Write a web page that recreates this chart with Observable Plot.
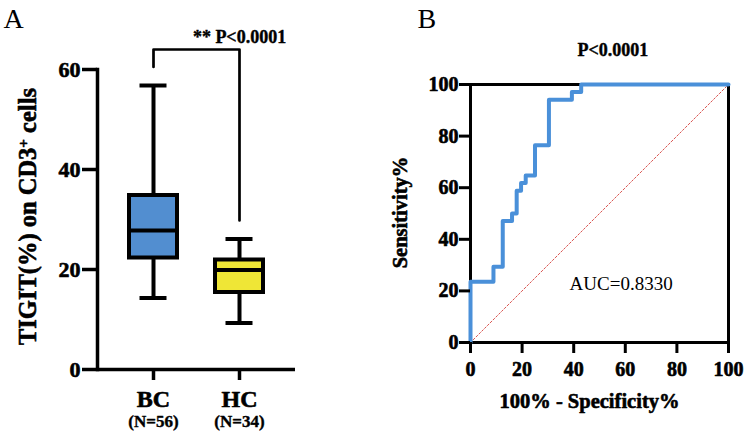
<!DOCTYPE html>
<html>
<head>
<meta charset="utf-8">
<script src="https://cdn.jsdelivr.net/npm/d3@7"></script>
<script src="https://cdn.jsdelivr.net/npm/@observablehq/plot@0.6"></script>
<style>
  html, body { margin: 0; padding: 0; background: #fff; }
  #wrap { position: relative; width: 750px; height: 433px; background: #fff; overflow: hidden; }
  #wrap > div { position: absolute; top: 0; }
  #panelA { left: 0; }
  #panelB { left: 340px; }
</style>
</head>
<body>
<div id="wrap"><div id="panelA"></div><div id="panelB"></div></div>
<script>
// ---------- Panel A data (box plot summary) ----------
const categories = ["BC", "HC"];
const groupN = ["(N=56)", "(N=34)"];
const boxMin = [14.3, 9.3];
const boxQ1 = [22.3, 15.4];
const boxMedian = [27.8, 19.9];
const boxQ3 = [34.8, 21.9];
const boxMax = [56.8, 26.1];
const boxColors = ["#528ed0", "#efe636"];
const yTicksA = [0, 20, 40, 60];
const bracketX = ["BC", "BC", "HC", "HC"];
const bracketY = [60.5, 64, 64, 29.8];
const sigLabel = "** P<0.0001";
const yLabelA = "TIGIT(%) on CD3+ cells";

// ---------- Panel B data (ROC curve) ----------
const rocFpr = [0, 0, 8.9, 12.5, 16.1, 17.9, 19.6, 21.4, 25.0, 30.4, 39.3, 42.9, 100];
const rocSens = [0, 23.5, 29.4, 47.1, 50.0, 58.8, 61.8, 64.7, 76.5, 94.1, 97.1, 100, 100];
const refX = [0, 100];
const refY = [0, 100];
const xTicksB = [0, 20, 40, 60, 80, 100];
const yTicksB = [0, 20, 40, 60, 80, 100];
const pLabelB = "P<0.0001";
const aucLabel = "AUC=0.8330";
const xLabelB = "100% - Specificity%";
const yLabelB = "Sensitivity%";

const FONT = "'Liberation Serif', 'Times New Roman', Times, serif";
const HEAVY = {fontWeight: "bold", fontFamily: FONT, fill: "black", stroke: "black", strokeWidth: 0.6, paintOrder: "stroke"};

// Build tables
const boxes = categories.map((c, i) => ({
  cat: c, n: groupN[i], min: boxMin[i], q1: boxQ1[i], med: boxMedian[i], q3: boxQ3[i], max: boxMax[i], color: boxColors[i]
}));
const bracket = bracketX.map((x, i) => ({x, y: bracketY[i]}));
const roc = rocFpr.map((x, i) => ({x, y: rocSens[i]}));
const ref = refX.map((x, i) => ({x, y: refY[i]}));

// ---------- Panel A ----------
const plotA = Plot.plot({
  width: 340,
  height: 433,
  marginLeft: 97,
  marginRight: 45,
  marginTop: 69,
  marginBottom: 64,
  style: {fontFamily: FONT, fontWeight: "bold", background: "white", color: "black", overflow: "visible"},
  x: {type: "band", domain: categories, paddingInner: 0.442, paddingOuter: 0.37},
  y: {domain: [0, 60]},
  marks: [
    // whiskers
    Plot.ruleX(boxes, {x: "cat", y1: "min", y2: "q1", stroke: "black", strokeWidth: 4}),
    Plot.ruleX(boxes, {x: "cat", y1: "q3", y2: "max", stroke: "black", strokeWidth: 4}),
    Plot.tickY(boxes, {x: "cat", y: "min", stroke: "black", strokeWidth: 4, insetLeft: 10.5, insetRight: 10.5}),
    Plot.tickY(boxes, {x: "cat", y: "max", stroke: "black", strokeWidth: 4, insetLeft: 10.5, insetRight: 10.5}),
    // boxes
    Plot.barY(boxes, {x: "cat", y1: "q1", y2: "q3", fill: "color", stroke: "black", strokeWidth: 4}),
    Plot.tickY(boxes, {x: "cat", y: "med", stroke: "black", strokeWidth: 4}),
    // axes
    Plot.frame({anchor: "left", stroke: "black", strokeWidth: 3.5}),
    Plot.ruleY([0], {stroke: "black", strokeWidth: 3.5}),
    Plot.axisY(yTicksA, {tickSize: 15, tickFormat: () => "", strokeWidth: 3.5, label: null}),
    Plot.text(yTicksA, {y: d => d, text: d => String(d), frameAnchor: "left", textAnchor: "end", lineAnchor: "middle", dx: -17, fontSize: 22, ...HEAVY}),
    Plot.axisX(categories, {tickSize: 11, tickFormat: () => "", strokeWidth: 3.5, label: null}),
    // category labels
    Plot.text(boxes, {x: "cat", y: () => 0, text: "cat", dy: 37.7, lineAnchor: "bottom", fontSize: 24, ...HEAVY}),
    Plot.text(boxes, {x: "cat", y: () => 0, text: "n", dy: 57.5, lineAnchor: "bottom", fontSize: 17, ...HEAVY, strokeWidth: 0.4}),
    // significance bracket
    Plot.line(bracket, {x: "x", y: "y", stroke: "black", strokeWidth: 2.7, curve: "linear"}),
    Plot.text([sigLabel], {x: () => "HC", y: () => 65.3, text: d => d, lineAnchor: "bottom", fontSize: 18, ...HEAVY, strokeWidth: 0.4}),
    // y label
    Plot.text([yLabelA], {frameAnchor: "left", text: d => d, rotate: -90, textAnchor: "middle", lineAnchor: "middle", dx: -69, dy: -3, fontSize: 24.5, ...HEAVY}),
    // panel letter
    Plot.text(["A"], {frameAnchor: "top-left", text: d => d, dx: -94, dy: -42, textAnchor: "start", lineAnchor: "bottom", fontSize: 28, fontWeight: "normal", fontFamily: FONT})
  ]
});
document.getElementById("panelA").appendChild(plotA);

// superscript "+" in the y label
d3.select(plotA).selectAll("text").each(function() {
  if (this.textContent === yLabelA) {
    const t = d3.select(this);
    t.text(null).attr("text-anchor", "middle");
    t.append("tspan").text("TIGIT(%) on CD3");
    t.append("tspan").text("+").attr("font-size", "0.62em").attr("dy", "-0.55em");
    t.append("tspan").text(" cells").attr("dy", "0.34em");
  }
});

// ---------- Panel B ----------
const plotB = Plot.plot({
  width: 410,
  height: 433,
  marginLeft: 130,
  marginRight: 22,
  marginTop: 84,
  marginBottom: 91,
  style: {fontFamily: FONT, fontWeight: "bold", background: "white", color: "black", overflow: "visible"},
  x: {domain: [0, 100]},
  y: {domain: [0, 100]},
  marks: [
    Plot.frame({stroke: "black", strokeWidth: 3}),
    Plot.line(ref, {x: "x", y: "y", stroke: "#d9534f", strokeWidth: 1, strokeDasharray: "2,2"}),
    Plot.line(roc, {x: "x", y: "y", curve: "step-after", stroke: "#4a90d9", strokeWidth: 4}),
    Plot.axisY(yTicksB, {tickSize: 11, tickFormat: () => "", strokeWidth: 3, label: null}),
    Plot.axisX(xTicksB, {tickSize: 11, tickFormat: () => "", strokeWidth: 3, label: null}),
    Plot.text(yTicksB, {y: d => d, text: d => String(d), frameAnchor: "left", textAnchor: "end", lineAnchor: "middle", dx: -12, fontSize: 20, ...HEAVY}),
    Plot.text(xTicksB, {x: d => d, text: d => String(d), frameAnchor: "bottom", textAnchor: "middle", lineAnchor: "top", dy: 19, fontSize: 20, ...HEAVY}),
    Plot.text([pLabelB], {x: () => 55.2, y: () => 111.2, text: d => d, lineAnchor: "bottom", fontSize: 18, ...HEAVY, strokeWidth: 0.4}),
    Plot.text([aucLabel], {x: () => 38.4, y: () => 20.2, text: d => d, textAnchor: "start", lineAnchor: "bottom", fontSize: 19, fontWeight: "normal", fontFamily: FONT}),
    Plot.text([xLabelB], {frameAnchor: "bottom", text: d => d, textAnchor: "middle", dx: -10, dy: 65, lineAnchor: "bottom", fontSize: 20.5, ...HEAVY}),
    Plot.text([yLabelB], {frameAnchor: "left", text: d => d, rotate: -90, textAnchor: "middle", lineAnchor: "middle", dx: -70, dy: -1, fontSize: 20.5, ...HEAVY}),
    Plot.text(["B"], {frameAnchor: "top-left", text: d => d, dx: -53, dy: -57, textAnchor: "start", lineAnchor: "bottom", fontSize: 28, fontWeight: "normal", fontFamily: FONT})
  ]
});
document.getElementById("panelB").appendChild(plotB);
</script>
</body>
</html>
